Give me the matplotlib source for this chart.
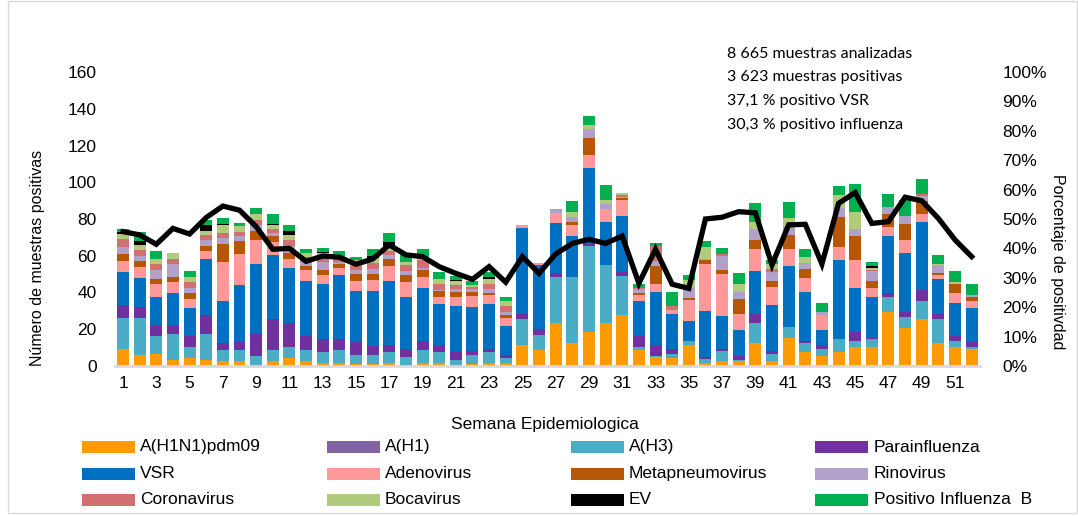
import numpy as np
import matplotlib
matplotlib.use("Agg")
import matplotlib.pyplot as plt
from matplotlib import font_manager
from matplotlib.patches import Rectangle

# semanas epidemiologicas
weeks = np.arange(1, 53)

# muestras positivas por agente
h1n1 = [9, 6, 6.5, 3.5, 4.5, 3.5, 2.5, 2.5, 0, 2.5, 4.5, 2.5, 1.5, 1.5, 1, 1, 1.5, 0, 1.5, 1.5,
        0, 1, 1.5, 1.5, 11.5, 8.5, 23.5, 12.5, 18.5, 23.5, 27.5, 8.5, 5, 4.5, 11.5, 1.5, 2.5, 2.5, 12.5, 2.5,
        15.5, 7.5, 5.5, 7.5, 10.5, 10.5, 29.5, 20.5, 25.5, 12.5, 10.5, 9]
h1 = [0] * 52
h3 = [17, 20, 10, 14, 6, 14, 6, 6, 5.5, 6, 6, 6, 6, 7, 5, 5, 6, 4.7, 7, 6,
      3.5, 5, 6, 3, 14, 8.5, 25, 36, 47, 31.5, 21.5, 2, 0.5, 2, 2, 2.5, 5.5, 1, 11, 4,
      5.5, 5, 4, 7, 3, 4, 8, 6, 10, 13, 3, 1.5]
parainf = [7, 6, 6, 5, 6, 10, 4, 4.5, 12, 17, 13, 8, 7, 6, 7, 5, 4, 4.5, 5, 4,
           4, 2, 2, 1.5, 3, 3, 2, 0, 1.5, 0, 2, 6, 6, 3, 0, 1, 1, 2, 5, 1.5,
           0, 1, 2, 0, 5, 1, 2, 3, 6, 3, 3, 2.5]
vsr = [18, 16, 15, 17, 15, 31, 23, 31, 38, 35, 30, 30, 30, 35, 28, 30, 35, 28.5, 29, 22,
       25, 24, 24, 16, 46.5, 35, 27.5, 22.5, 41, 23.5, 30.5, 19, 29, 19, 11, 25, 18, 14, 23, 25,
       33.5, 27, 8, 43, 24, 22, 31, 32, 37, 19, 18, 18.5]
adeno = [6, 6, 7, 6, 5, 4, 21, 17, 13, 7, 5, 6, 5, 4, 5, 6, 8, 8, 6, 4,
         5, 6, 5, 4, 2, 1, 5.5, 5.5, 7, 7, 9, 3, 4, 2, 11.5, 25.5, 23, 9, 12, 10,
         9, 7.5, 8, 7, 15, 5, 5, 7, 4, 2, 5.5, 4]
metapneumo = [4, 3, 3, 3, 3, 3, 10, 7, 5, 3, 3, 2, 3, 2, 4, 3, 4, 4, 3.5, 3.5,
              3, 2.5, 1, 2, 0, 0, 0, 2, 9, 0, 0.7, 1, 10, 0, 1, 2, 2.5, 8, 5, 3.5,
              8, 5, 0, 16.5, 13.5, 4, 7, 9, 7.5, 1, 4.5, 2]
rino = [4, 3, 5, 7, 3, 3, 3, 3, 3, 2, 4, 2, 4, 1, 2, 3, 2, 2, 1.5, 0.5,
        1.5, 1.5, 2.5, 1.5, 0, 0, 2, 2.5, 5, 2.5, 1, 2.5, 2.5, 0, 5.5, 1, 7.5, 4, 6, 4.5,
        4.5, 3, 2, 5, 3.5, 5, 4, 4, 2.5, 4.5, 0, 1]
corona = [4, 3, 3, 3, 3, 3, 3, 2, 3, 2, 3, 3, 3, 2, 2.5, 3, 2, 3, 4, 3,
          2, 1, 2.5, 3, 0, 0, 0, 0, 0, 0, 1, 0.7, 8.5, 2, 0, 0, 1, 0, 0, 2,
          0, 0, 0, 0, 0, 1, 0, 0, 1, 0, 0, 0]
boca = [3, 3, 2.5, 3, 3, 2, 4, 3, 3, 2, 3, 2, 2, 1, 3, 3, 3, 2, 2, 3,
        2, 1, 3, 3, 0, 0, 0, 3, 2, 2.5, 1, 0, 0, 0, 4.5, 6.5, 0, 4, 4, 2.5,
        4.5, 3.5, 0, 7, 9.5, 1, 0, 0, 0, 0.5, 1, 0]
ev = [1, 2, 0.5, 0, 0, 3, 1, 0, 0, 1, 2, 0, 0.5, 0, 0, 1, 2, 0, 0, 0,
      1, 0, 1, 0, 0, 0, 0, 0, 0, 0, 0, 0, 0, 0, 0, 0, 0, 0, 0, 0,
      0, 0, 0, 0, 0, 0.7, 0, 0, 0, 0, 0, 0]
flu_b = [1.5, 5, 4, 0, 3, 3, 3, 2, 3.5, 5, 3, 2, 2, 3, 2, 3.5, 5, 5, 4, 3.5,
         2, 2, 2.5, 2, 0, 0, 0, 6, 5, 8, 0, 2, 1.3, 8, 2.5, 3, 3, 6, 10, 2,
         8.5, 4, 5, 5, 15, 2.2, 7, 9, 8, 5, 6, 6]

# porcentaje de positividad
positividad = [45.7, 44.6, 41.4, 46.8, 44.9, 50.5, 54.4, 53, 47.4, 39.7, 40, 35.6, 37.4, 37, 34.6, 36.4,
               41.2, 37.8, 37.2, 33.8, 31.5, 29.5, 33.8, 28.5, 37.2, 31.5, 38.1, 41.7, 43.1, 41.7,
               44.2, 28.1, 39.7, 27.8, 26.4, 50, 50.6, 52.5, 52.1, 34.4, 48, 48.2, 34.7, 55.3,
               59, 48.5, 49.1, 57.4, 56.2, 50.2, 42.9, 37.2]

labels = ["A(H1N1)pdm09", "A(H1)", "A(H3)", "Parainfluenza",
          "VSR", "Adenovirus", "Metapneumovirus", "Rinovirus",
          "Coronavirus", "Bocavirus", "EV", "Positivo Influenza  B"]
series = [h1n1, h1, h3, parainf, vsr, adeno, metapneumo, rino, corona, boca, ev, flu_b]
colors = ["#FF9A00", "#8064A2", "#4BACC6", "#7030A0", "#0070C0", "#FF9999",
          "#B65708", "#B1A0C7", "#D07070", "#AFCB7B", "#000000", "#00B050"]

names = {f.name for f in font_manager.fontManager.ttflist}
if "Liberation Sans Narrow" in names:
    fam, fs = "Liberation Sans Narrow", 15
else:
    fam, fs = "Liberation Sans", 12.5
plt.rcParams["font.family"] = [fam, "DejaVu Sans"]

W, H = 1078, 516
fig = plt.figure(figsize=(W / 100, H / 100), dpi=100)
fig.patches.append(Rectangle((8 / W, 3 / H), 1 - 9 / W, 1 - 4 / H, transform=fig.transFigure,
                             fill=False, edgecolor="#d9d9d9", lw=1))

ax = fig.add_axes([114.7 / W, 1 - 366 / H, (980 - 114.7) / W, 294 / H])
bottom = np.zeros(52)
for vals, col in zip(series, colors):
    v = np.array(vals, dtype=float)
    ax.bar(weeks, v, width=0.72, bottom=bottom, color=col, linewidth=0)
    bottom += v

ax.set_xlim(0.5, 52.5)
ax.set_ylim(0, 160)
ax.set_yticks(np.arange(0, 161, 20))
ax.set_xticks(weeks[::2])
ax.tick_params(length=0, labelsize=fs)
ax.tick_params(axis="y", pad=13)
ax.tick_params(axis="x", pad=7)
for s in ["top", "left", "right"]:
    ax.spines[s].set_visible(False)
ax.spines["bottom"].set_color("#d9d9d9")
ax.spines["bottom"].set_linewidth(2)

ax2 = ax.twinx()
ax2.plot(weeks, np.array(positividad) / 100, color="black", lw=3.8, solid_joinstyle="miter")
ax2.set_ylim(0, 1)
ax2.set_yticks(np.arange(0, 1.01, 0.1))
ax2.set_yticklabels([f"{int(round(t * 100))}%" for t in np.arange(0, 1.01, 0.1)])
ax2.tick_params(length=0, labelsize=fs, pad=16)
for s in ax2.spines.values():
    s.set_visible(False)

fig.text(38 / W, 1 - 258 / H, "Número de muestras positivas", rotation=90,
         ha="center", va="center", fontsize=fs - 1)
fig.text(1058 / W, 1 - 262 / H, "Porcentaje de positivdad", rotation=270,
         ha="center", va="center", fontsize=fs - 1)
fig.text(545 / W, 1 - 424 / H, "Semana Epidemiologica", ha="center", va="center", fontsize=fs)

notas = ["8 665 muestras analizadas", "3 623 muestras positivas",
         "37,1 % positivo VSR", "30,3 % positivo influenza"]
for i, t in enumerate(notas):
    fig.text(727 / W, 1 - (54 + i * 23.5) / H, t, ha="left", va="center",
             fontsize=11.5, family=["Lato", "DejaVu Sans"])

# leyenda en 4 columnas
for i, (lab, col) in enumerate(zip(labels, colors)):
    c, r = i % 4, i // 4
    x0 = 82 + c * 244.5
    y0 = 447 + r * 26.5
    fig.patches.append(Rectangle((x0 / W, 1 - (y0 + 6) / H), 53 / W, 12 / H,
                                 transform=fig.transFigure, color=col, lw=0))
    fig.text((x0 + 58) / W, 1 - y0 / H, lab, ha="left", va="center", fontsize=fs)

fig.savefig("out.png", dpi=100)
